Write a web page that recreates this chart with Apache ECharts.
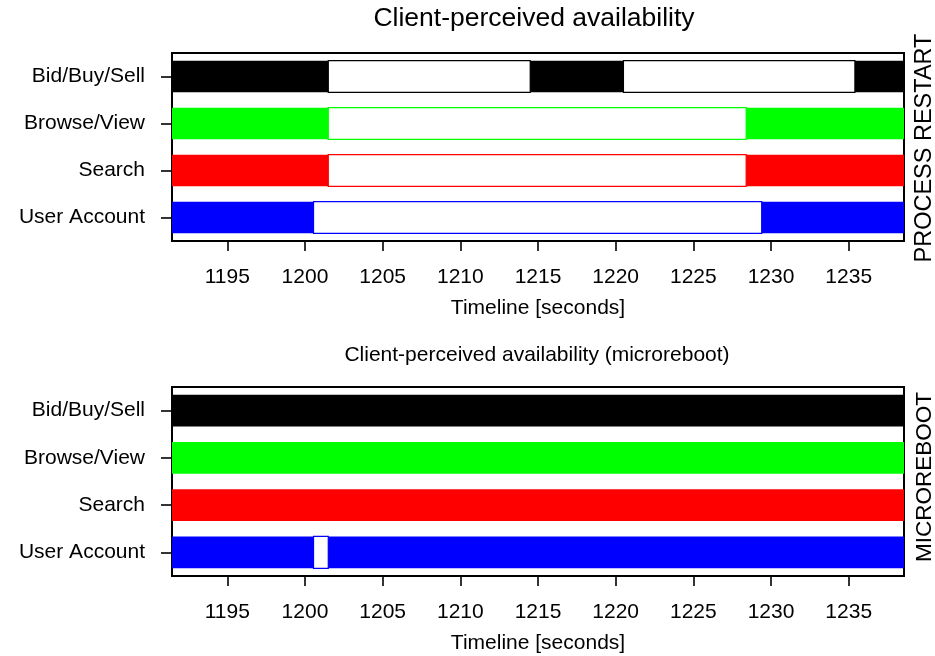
<!DOCTYPE html>
<html>
<head>
<meta charset="utf-8">
<title>Client-perceived availability</title>
<script src="https://cdn.jsdelivr.net/npm/echarts@6/dist/echarts.min.js"></script>
<style>
  html, body { margin: 0; padding: 0; background: #fff; }
  #chart { width: 935px; height: 656px; }
</style>
</head>
<body>
<div id="chart"></div>
<script>
// Request types, one row each (top to bottom)
const categories = ['Bid/Buy/Sell', 'Browse/View', 'Search', 'User Account'];
const rowColors = ['#000000', '#00ff00', '#ff0000', '#0000ff'];

// Observed timeline [seconds]
const traceSpan = [1191.0, 1239.0];
const axisMin = 1191.44;
const axisMax = 1238.56;
const tickValues = [1195, 1200, 1205, 1210, 1215, 1220, 1225, 1230, 1235];

// Periods in which requests failed, process restart
const restartBidDown = [[1201.5, 1214.5], [1220.5, 1235.4]];
const restartBrowseDown = [[1201.5, 1228.4]];
const restartSearchDown = [[1201.5, 1228.4]];
const restartAccountDown = [[1200.55, 1229.4]];

// Periods in which requests failed, microreboot
const microBidDown = [];
const microBrowseDown = [];
const microSearchDown = [];
const microAccountDown = [[1200.55, 1201.5]];

function toItems(rows) {
  const items = [];
  rows.forEach(function (list, row) {
    list.forEach(function (iv) { items.push([row, iv[0], iv[1]]); });
  });
  return items;
}

const fullRows = categories.map(function (c, i) { return [i, traceSpan[0], traceSpan[1]]; });
const restartDown = toItems([restartBidDown, restartBrowseDown, restartSearchDown, restartAccountDown]);
const microDown = toItems([microBidDown, microBrowseDown, microSearchDown, microAccountDown]);

const FONT = '"Liberation Sans", Arial, Helvetica, sans-serif';
const BAR_FRACTION = 0.675;

function makeRender(outage) {
  return function (params, api) {
    const row = api.value(0);
    const a = api.coord([api.value(1), row]);
    const b = api.coord([api.value(2), row]);
    const h = api.size([0, 1])[1] * BAR_FRACTION;
    const cs = params.coordSys;
    const rect = echarts.graphic.clipRectByRect(
      { x: a[0], y: a[1] - h / 2, width: b[0] - a[0], height: h },
      { x: cs.x, y: cs.y, width: cs.width, height: cs.height }
    );
    if (!rect) return;
    const color = rowColors[row];
    return {
      type: 'rect',
      shape: rect,
      style: outage
        ? { fill: '#ffffff', stroke: color, lineWidth: 1.2 }
        : { fill: color }
    };
  };
}

function xAxisFor(gridIndex) {
  return {
    type: 'value',
    gridIndex: gridIndex,
    min: axisMin,
    max: axisMax,
    name: 'Timeline [seconds]',
    nameLocation: 'middle',
    nameGap: 57,
    nameTextStyle: { color: '#000', fontSize: 21, fontFamily: FONT },
    axisLine: { show: false },
    splitLine: { show: false },
    axisTick: { show: true, length: 10, lineStyle: { color: '#000', width: 1.6 }, customValues: tickValues },
    axisLabel: {
      color: '#000', fontSize: 21, fontFamily: FONT, margin: 26, customValues: tickValues,
      formatter: function (v) { return String(v); }
    }
  };
}

function yAxisFor(gridIndex) {
  return {
    type: 'category',
    gridIndex: gridIndex,
    data: categories,
    inverse: true,
    axisLine: { show: false },
    splitLine: { show: false },
    axisTick: { show: true, alignWithLabel: true, length: 11, lineStyle: { color: '#000', width: 1.6 } },
    axisLabel: { color: '#000', fontSize: 21, fontFamily: FONT, margin: 27 }
  };
}

const gridStyle = { show: true, left: 172, right: 31, borderColor: '#000', borderWidth: 2, backgroundColor: 'transparent', containLabel: false };

const chart = echarts.init(document.getElementById('chart'), null, { renderer: 'canvas' });
chart.setOption({
  animation: false,
  backgroundColor: '#ffffff',
  grid: [
    Object.assign({ top: 53, height: 188 }, gridStyle),
    Object.assign({ top: 387, height: 189 }, gridStyle)
  ],
  xAxis: [xAxisFor(0), xAxisFor(1)],
  yAxis: [yAxisFor(0), yAxisFor(1)],
  series: [
    { type: 'custom', name: 'available', xAxisIndex: 0, yAxisIndex: 0, renderItem: makeRender(false), encode: { x: [1, 2], y: 0 }, data: fullRows, z: 2 },
    { type: 'custom', name: 'failed', xAxisIndex: 0, yAxisIndex: 0, renderItem: makeRender(true), encode: { x: [1, 2], y: 0 }, data: restartDown, z: 3 },
    { type: 'custom', name: 'available', xAxisIndex: 1, yAxisIndex: 1, renderItem: makeRender(false), encode: { x: [1, 2], y: 0 }, data: fullRows, z: 2 },
    { type: 'custom', name: 'failed', xAxisIndex: 1, yAxisIndex: 1, renderItem: makeRender(true), encode: { x: [1, 2], y: 0 }, data: microDown, z: 3 }
  ],
  graphic: [
    { type: 'text', x: 534, y: 19, style: { text: 'Client-perceived availability', fill: '#000', font: '26.5px ' + FONT, align: 'center', verticalAlign: 'middle' } },
    { type: 'text', x: 537, y: 355, style: { text: 'Client-perceived availability (microreboot)', fill: '#000', font: '21px ' + FONT, align: 'center', verticalAlign: 'middle' } },
    { type: 'text', x: 925, y: 148, rotation: Math.PI / 2, style: { text: 'PROCESS RESTART', fill: '#000', font: '23.5px ' + FONT, align: 'center', verticalAlign: 'middle' } },
    { type: 'text', x: 925, y: 477, rotation: Math.PI / 2, style: { text: 'MICROREBOOT', fill: '#000', font: '22.5px ' + FONT, align: 'center', verticalAlign: 'middle' } }
  ]
});
</script>
</body>
</html>
